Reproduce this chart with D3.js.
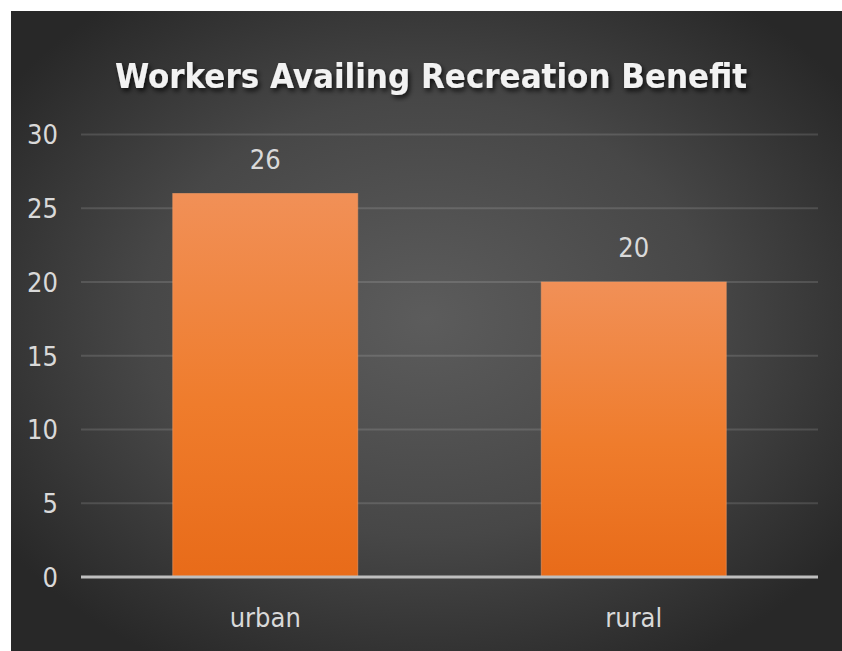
<!DOCTYPE html>
<html>
<head>
<meta charset="utf-8">
<script src="https://cdn.jsdelivr.net/npm/d3@7"></script>
<style>
  html, body { margin: 0; padding: 0; background: #ffffff; }
  svg { display: block; }
</style>
</head>
<body>
<svg id="chart" width="842" height="651"></svg>
<script>
// Chart data
const title = "Workers Availing Recreation Benefit";
const categories = ["urban", "rural"];
const values = [26, 20];
const yTicks = [0, 5, 10, 15, 20, 25, 30];

const W = 842, H = 651;
const panel = { x: 11, y: 11, w: W - 11, h: H - 11 };
const plot = { left: 81, right: 818, top: 134.5, bottom: 577 };

const labelFont = "'Liberation Sans Narrow', 'DejaVu Sans Condensed', 'Open Sans', sans-serif";
const textColor = "#d9d9d9";

const svg = d3.select("#chart");
const defs = svg.append("defs");

// Dark vignette background
const bg = defs.append("radialGradient").attr("id", "bgGrad")
  .attr("cx", "50%").attr("cy", "48%").attr("r", "62%");
bg.append("stop").attr("offset", "0%").attr("stop-color", "#5c5c5c");
bg.append("stop").attr("offset", "55%").attr("stop-color", "#474747");
bg.append("stop").attr("offset", "100%").attr("stop-color", "#282828");

// Orange bar fill, lighter at the top
const barGrad = defs.append("linearGradient").attr("id", "barGrad")
  .attr("x1", 0).attr("y1", 0).attr("x2", 0).attr("y2", 1);
barGrad.append("stop").attr("offset", "0%").attr("stop-color", "#f19057");
barGrad.append("stop").attr("offset", "55%").attr("stop-color", "#ef7c2c");
barGrad.append("stop").attr("offset", "100%").attr("stop-color", "#e86b19");

// Soft shadow behind the title
const shadow = defs.append("filter").attr("id", "titleShadow")
  .attr("x", "-10%").attr("y", "-30%").attr("width", "120%").attr("height", "160%");
shadow.append("feDropShadow").attr("dx", 2).attr("dy", 3)
  .attr("stdDeviation", 2.5).attr("flood-color", "#000").attr("flood-opacity", 0.75);

svg.append("rect")
  .attr("x", panel.x).attr("y", panel.y)
  .attr("width", panel.w).attr("height", panel.h)
  .attr("fill", "url(#bgGrad)");

// Scales
const x = d3.scaleBand()
  .domain(categories)
  .range([plot.left, plot.right])
  .paddingInner(0.498)
  .paddingOuter(0.249);

const y = d3.scaleLinear()
  .domain([0, 30])
  .range([plot.bottom, plot.top]);

// Gridlines
svg.append("g")
  .selectAll("line")
  .data(yTicks.filter(d => d > 0))
  .join("line")
  .attr("x1", plot.left).attr("x2", plot.right)
  .attr("y1", d => y(d)).attr("y2", d => y(d))
  .attr("stroke", "#ffffff").attr("stroke-opacity", 0.13)
  .attr("stroke-width", 2);

// Y axis labels
const yAxis = svg.append("g")
  .attr("transform", `translate(${plot.left},0)`)
  .call(d3.axisLeft(y).tickValues(yTicks).tickSize(0).tickPadding(23));
yAxis.select(".domain").remove();
yAxis.selectAll("text")
  .attr("fill", textColor)
  .attr("font-family", labelFont)
  .attr("font-size", 27)
  .attr("dy", "0.35em");

// Bars
svg.append("g")
  .selectAll("rect")
  .data(categories.map((c, i) => ({ c, v: values[i] })))
  .join("rect")
  .attr("x", d => x(d.c))
  .attr("y", d => y(d.v))
  .attr("width", x.bandwidth())
  .attr("height", d => y(0) - y(d.v))
  .attr("fill", "url(#barGrad)")
  .attr("stroke", "#f39a62")
  .attr("stroke-opacity", 0.6)
  .attr("stroke-width", 1);

// Value labels
svg.append("g")
  .selectAll("text")
  .data(categories.map((c, i) => ({ c, v: values[i] })))
  .join("text")
  .attr("x", d => x(d.c) + x.bandwidth() / 2)
  .attr("y", d => y(d.v) - 25)
  .attr("text-anchor", "middle")
  .attr("fill", textColor)
  .attr("font-family", labelFont)
  .attr("font-size", 27)
  .text(d => d.v);

// X axis baseline and category labels
const xAxis = svg.append("g")
  .attr("transform", `translate(0,${plot.bottom})`)
  .call(d3.axisBottom(x).tickSize(0).tickPadding(31));
xAxis.select(".domain")
  .attr("stroke", "#bfbfbf")
  .attr("stroke-width", 3)
  .attr("d", `M${plot.left},0H${plot.right}`);
xAxis.selectAll("text")
  .attr("fill", textColor)
  .attr("font-family", labelFont)
  .attr("font-size", 27)
  .attr("dy", "0.71em");

// Title
svg.append("text")
  .attr("x", 431)
  .attr("y", 88)
  .attr("text-anchor", "middle")
  .attr("fill", "#f2f2f2")
  .attr("font-family", labelFont)
  .attr("font-weight", "bold")
  .attr("font-size", 34.5)
  .attr("filter", "url(#titleShadow)")
  .text(title);
</script>
</body>
</html>
